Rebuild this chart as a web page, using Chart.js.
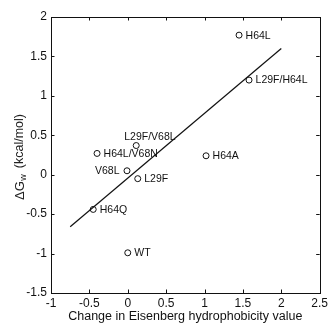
<!DOCTYPE html>
<html>
<head>
<meta charset="utf-8">
<script src="https://cdn.jsdelivr.net/npm/chart.js@4/dist/chart.umd.min.js"></script>
<style>
html,body{margin:0;padding:0;background:#fff;}
#wrap{width:331px;height:324px;position:relative;}
</style>
</head>
<body>
<div id="wrap"><canvas id="c" width="331" height="324"></canvas></div>
<script>
const mutants = ['H64L','L29F/H64L','L29F/V68L','H64L/V68N','H64A','V68L','L29F','H64Q','WT'];
const hydrophobicity = [1.45, 1.58, 0.11, -0.40, 1.02, -0.01, 0.13, -0.45, 0.00];
const deltaGw = [1.77, 1.20, 0.37, 0.27, 0.24, 0.05, -0.05, -0.44, -0.99];
const fitX = [-0.75, 2.00];
const fitY = [-0.66, 1.60];
const xTicks = [-1, -0.5, 0, 0.5, 1, 1.5, 2, 2.5];
const yTicks = [-1.5, -1, -0.5, 0, 0.5, 1, 1.5, 2];
const xTitle = 'Change in Eisenberg hydrophobicity value';
const yTitleMain = 'ΔG';
const yTitleSub = 'w';
const yTitleUnit = '(kcal/mol)';

// label placement style: 'r' right, 'l' left, 'a' above-left
const labelSide = ['r','r','a','r','r','l','r','r','r'];

const FONT = '"Liberation Sans", Arial, sans-serif';
const INK = '#111';

const framePlugin = {
  id: 'frame',
  afterDatasetsDraw(chart) {
    const {ctx, chartArea: a, scales} = chart;
    const xs = scales.x, ys = scales.y;
    ctx.save();
    ctx.strokeStyle = INK;
    ctx.lineWidth = 1;
    ctx.strokeRect(Math.round(a.left)+0.5, Math.round(a.top)+0.5, Math.round(a.right-a.left), Math.round(a.bottom-a.top));
    const tl = 3.5;
    ctx.beginPath();
    xTicks.forEach(v => {
      const px = Math.round(xs.getPixelForValue(v)) + 0.5;
      ctx.moveTo(px, a.bottom); ctx.lineTo(px, a.bottom - tl);
      ctx.moveTo(px, a.top); ctx.lineTo(px, a.top + tl);
    });
    yTicks.forEach(v => {
      const py = Math.round(ys.getPixelForValue(v)) + 0.5;
      ctx.moveTo(a.left, py); ctx.lineTo(a.left + tl, py);
      ctx.moveTo(a.right, py); ctx.lineTo(a.right - tl, py);
    });
    ctx.stroke();

    // point labels
    ctx.fillStyle = INK;
    ctx.font = '10.5px ' + FONT;
    ctx.textBaseline = 'middle';
    mutants.forEach((m, i) => {
      const px = xs.getPixelForValue(hydrophobicity[i]);
      const py = ys.getPixelForValue(deltaGw[i]);
      const s = labelSide[i];
      if (s === 'r') { ctx.textAlign = 'left'; ctx.fillText(m, px + 6.5, py + 0.5); }
      else if (s === 'l') { ctx.textAlign = 'right'; ctx.fillText(m, px - 7.5, py + 0.5); }
      else { ctx.textAlign = 'left'; ctx.fillText(m, px - 12, py - 8); }
    });

    // y title with subscript
    const cx = 20, startY = 200;
    ctx.translate(cx, startY);
    ctx.rotate(-Math.PI / 2);
    ctx.textAlign = 'left';
    ctx.textBaseline = 'middle';
    ctx.fillStyle = '#222';
    ctx.font = '13px ' + FONT;
    ctx.fillText(yTitleMain, 0, 0);
    let w = ctx.measureText(yTitleMain).width;
    ctx.font = '9px ' + FONT;
    ctx.fillText(yTitleSub, w + 0.5, 4);
    w += 0.5 + ctx.measureText(yTitleSub).width;
    ctx.font = '12.5px ' + FONT;
    ctx.fillText(yTitleUnit, w + 6, 0);
    ctx.restore();
  }
};

new Chart(document.getElementById('c'), {
  type: 'scatter',
  data: {
    datasets: [
      {
        label: 'mutants',
        data: hydrophobicity.map((x, i) => ({x, y: deltaGw[i]})),
        pointStyle: 'circle',
        pointRadius: 3,
        pointBorderWidth: 1,
        pointBorderColor: INK,
        pointBackgroundColor: 'rgba(255,255,255,0)',
        showLine: false
      },
      {
        label: 'fit',
        data: fitX.map((x, i) => ({x, y: fitY[i]})),
        showLine: true,
        borderColor: INK,
        borderWidth: 1.2,
        pointRadius: 0,
        fill: false
      }
    ]
  },
  options: {
    responsive: false,
    animation: false,
    devicePixelRatio: 1,
    layout: {padding: {left: 0, right: 10, top: 17, bottom: 0}},
    plugins: {legend: {display: false}, tooltip: {enabled: false}},
    scales: {
      x: {
        type: 'linear',
        min: -1, max: 2.5,
        afterBuildTicks(s) { s.ticks = xTicks.map(v => ({value: v})); },
        grid: {display: false, drawTicks: false},
        border: {display: false},
        ticks: {
          padding: 3,
          color: INK,
          font: {family: FONT, size: 12},
          maxRotation: 0,
          autoSkip: false,
          callback: v => String(v)
        },
        title: {
          display: true,
          text: xTitle,
          color: INK,
          font: {family: FONT, size: 12.5},
          padding: {top: 0, bottom: 0}
        },
        afterFit(s) { s.height = 31; }
      },
      y: {
        type: 'linear',
        min: -1.5, max: 2,
        afterBuildTicks(s) { s.ticks = yTicks.map(v => ({value: v})); },
        grid: {display: false, drawTicks: false},
        border: {display: false},
        ticks: {
          padding: 4,
          color: INK,
          font: {family: FONT, size: 12},
          autoSkip: false,
          callback: v => String(v)
        },
        afterFit(s) { s.width = 51; }
      }
    }
  },
  plugins: [framePlugin]
});
</script>
</body>
</html>
